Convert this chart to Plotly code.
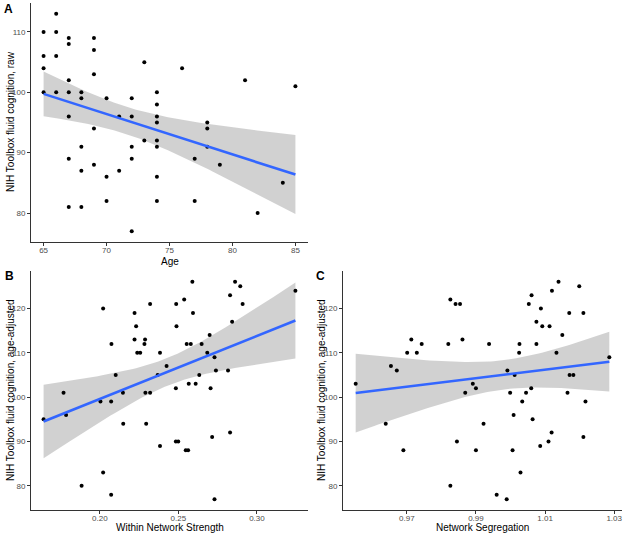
import numpy as np
import plotly.graph_objects as go

# ---------------- data ----------------
age = [65, 65, 65, 65, 66, 66, 66, 66, 67, 67, 67, 67, 67, 67, 67,
       68, 68, 68, 68, 68, 69, 69, 69, 69, 69, 70, 70, 70, 71, 71,
       72, 72, 72, 72, 72, 73, 73, 74, 74, 74, 74, 74, 74, 74, 74,
       76, 77, 77, 78, 78, 78, 79, 81, 82, 84, 85]
cog_raw = [110, 106, 104, 100, 113, 110, 106, 100, 109, 108, 102, 100, 96, 89, 81,
           100, 99, 91, 87, 81, 109, 107, 103, 94, 88, 99, 86, 82, 96, 87,
           99, 96, 91, 89, 77, 105, 92, 100, 98, 96, 95, 92, 91, 86, 82,
           104, 89, 82, 95, 94, 91, 88, 102, 80, 85, 101]

strength = [0.1642, 0.1769, 0.1785, 0.1884, 0.2004, 0.2021, 0.2021, 0.2074, 0.2072, 0.2072,
            0.2101, 0.2149, 0.2147, 0.2221, 0.2221, 0.2231, 0.2238, 0.2257, 0.2284, 0.2288,
            0.2290, 0.2295, 0.2320, 0.2320, 0.2383, 0.2383, 0.2425, 0.2368, 0.2486, 0.2488,
            0.2484, 0.2484, 0.2499, 0.2537, 0.2589, 0.2593, 0.2553, 0.2579, 0.2566, 0.2610,
            0.2547, 0.2562, 0.2648, 0.2633, 0.2684, 0.2699, 0.2705, 0.2715, 0.2730, 0.2739,
            0.2730, 0.2816, 0.2829, 0.2829, 0.2842, 0.2861, 0.2894, 0.2909, 0.3245]
cog_adj_b = [95, 101, 96, 80, 99, 120, 83, 112, 99, 78,
             105, 94, 101, 119, 113, 116, 110, 110, 112, 113,
             101, 94, 101, 121, 110, 89, 107, 105, 121, 116,
             102, 90, 90, 122, 126, 119, 112, 112, 103, 103,
             88, 88, 112, 105, 110, 114, 102, 91, 109, 106,
             77, 106, 123, 92, 117, 126, 125, 121, 124]

segregation = [0.9552, 0.9639, 0.9654, 0.9671, 0.9690, 0.9701, 0.9713, 0.9729, 0.9743, 0.9820,
               0.9826, 0.9826, 0.9841, 0.9854, 0.9845, 0.9861, 0.9869, 0.9891, 0.9900, 0.9900,
               0.9922, 0.9938, 0.9960, 0.9989, 0.9991, 0.9999, 1.0006, 1.0009, 1.0012, 1.0025,
               1.0026, 1.0029, 1.0034, 1.0045, 1.0053, 1.0060, 1.0061, 1.0064, 1.0075, 1.0075,
               1.0086, 1.0088, 1.0092, 1.0110, 1.0113, 1.0119, 1.0120, 1.0133, 1.0139, 1.0150,
               1.0165, 1.0170, 1.0171, 1.0182, 1.0199, 1.0211, 1.0211, 1.0217, 1.0286]
cog_adj_c = [103, 94, 107, 106, 88, 110, 113, 110, 112, 112,
             122, 80, 121, 121, 90, 113, 101, 103, 102, 88,
             94, 112, 78, 77, 106, 101, 88, 96, 105, 110,
             112, 83, 99, 101, 121, 102, 123, 95, 117, 112,
             89, 120, 116, 90, 116, 92, 124, 110, 126, 114,
             101, 119, 105, 105, 125, 119, 91, 99, 109]

ticks_a_x = [65, 70, 75, 80, 85]
ticks_a_y = [80, 90, 100, 110]
ticks_b_x = [0.20, 0.25, 0.30]
ticks_c_x = [0.97, 0.99, 1.01, 1.03]
ticks_bc_y = [80, 90, 100, 110, 120]

# ---------------- helpers ----------------
def lm_band(x, y, n=80, t=2.0):
    x = np.asarray(x, float); y = np.asarray(y, float)
    xm = x.mean(); sxx = ((x - xm) ** 2).sum()
    b1 = ((x - xm) * (y - y.mean())).sum() / sxx
    b0 = y.mean() - b1 * xm
    resid = y - (b0 + b1 * x)
    s = np.sqrt((resid ** 2).sum() / (len(x) - 2))
    xs = np.linspace(x.min(), x.max(), n)
    fit = b0 + b1 * xs
    se = s * np.sqrt(1 / len(x) + (xs - xm) ** 2 / sxx)
    return xs, fit, fit - t * se, fit + t * se

def rng(v):
    lo, hi = min(v), max(v); pad = 0.05 * (hi - lo)
    return [lo - pad, hi + pad]

W, H = 625, 536
def dx(a, b): return [a / W, b / W]
def dy(top, bottom): return [1 - bottom / H, 1 - top / H]

fig = go.Figure()
panels = [
    ("x", "y", age, cog_raw),
    ("x2", "y2", strength, cog_adj_b),
    ("x3", "y3", segregation, cog_adj_c),
]
for xa, ya, xv, yv in panels:
    xs, fit, lo, hi = lm_band(xv, yv)
    fig.add_trace(go.Scatter(x=np.concatenate([xs, xs[::-1]]), y=np.concatenate([hi, lo[::-1]]),
                             fill="toself", fillcolor="rgba(153,153,153,0.45)", line=dict(width=0),
                             mode="lines", hoverinfo="skip", showlegend=False, xaxis=xa, yaxis=ya))
    fig.add_trace(go.Scatter(x=xv, y=yv, mode="markers", marker=dict(color="black", size=4),
                             showlegend=False, xaxis=xa, yaxis=ya))
    fig.add_trace(go.Scatter(x=xs, y=fit, mode="lines", line=dict(color="#3366FF", width=2.6),
                             showlegend=False, xaxis=xa, yaxis=ya))

tickfont = dict(family="Liberation Sans, Arial, sans-serif", size=8, color="#4d4d4d")
common = dict(showline=True, linecolor="#333333", linewidth=1, ticks="outside", ticklen=3,
              tickcolor="#333333", showgrid=False, zeroline=False, tickfont=tickfont,
              automargin=False)
xcommon = dict(common, ticklabelstandoff=-3)

fig.update_layout(
    width=W, height=H, margin=dict(l=0, r=0, t=0, b=0),
    paper_bgcolor="white", plot_bgcolor="white",
    font=dict(family="Liberation Sans, Arial, sans-serif"),
    xaxis=dict(domain=dx(31, 308), range=rng(age), tickvals=ticks_a_x, anchor="y", **xcommon),
    yaxis=dict(domain=dy(3, 242), range=rng(cog_raw), tickvals=ticks_a_y, anchor="x", **common),
    xaxis2=dict(domain=dx(31, 308), range=rng(strength), tickvals=ticks_b_x, tickformat=".2f",
                anchor="y2", **xcommon),
    yaxis2=dict(domain=dy(271, 510), range=rng(cog_adj_b), tickvals=ticks_bc_y, anchor="x2", **common),
    xaxis3=dict(domain=dx(343, 622), range=rng(segregation), tickvals=ticks_c_x, tickformat=".2f",
                anchor="y3", **xcommon),
    yaxis3=dict(domain=dy(271, 510), range=rng(cog_adj_c), tickvals=ticks_bc_y, anchor="x3", **common),
)

tfont = dict(family="Liberation Sans, Arial, sans-serif", size=10, color="black")
lfont = dict(family="Liberation Sans, Arial, sans-serif", size=12, color="black")
def ann(text, x, y, angle=0, font=tfont):
    fig.add_annotation(text=text, x=x / W, y=1 - y / H, xref="paper", yref="paper",
                       showarrow=False, textangle=angle, font=font, xanchor="center", yanchor="middle")

ann("Age", 170, 261)
ann("Within Network Strength", 170, 527)
ann("Network Segregation", 482, 527)
ann("NIH Toolbox fluid cognition, raw", 10, 122, -90)
ann("NIH Toolbox fluid cognition, age-adjusted", 10, 390, -90)
ann("NIH Toolbox fluid cognition, age-adjusted", 321, 390, -90)
ann("<b>A</b>", 8, 9, font=lfont)
ann("<b>B</b>", 9, 276, font=lfont)
ann("<b>C</b>", 320, 276, font=lfont)

fig.write_html("out.html", config={"displayModeBar": False},
               post_script="document.body.style.margin='0px';document.body.style.overflow='hidden';")
